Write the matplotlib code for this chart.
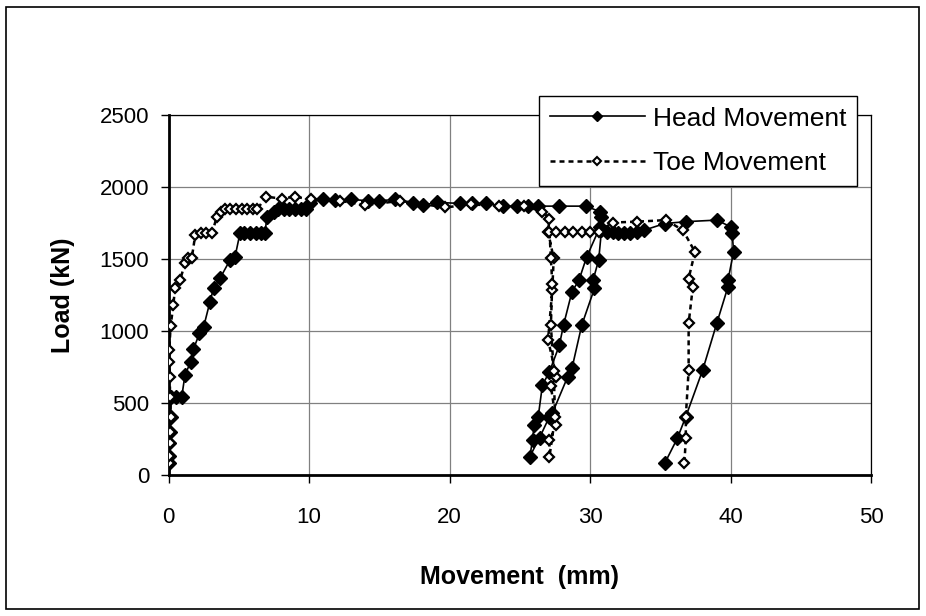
# Load - movement curves, head and toe of the pile
import matplotlib.pyplot as plt
from matplotlib.lines import Line2D
from matplotlib.patches import Rectangle

plt.rcParams['font.family'] = ['Liberation Sans', 'DejaVu Sans']

# Head movement (mm) and load (kN)
head_mm = [0.0, 0.0, 0.05, 0.1, 0.15, 0.2, 0.5, 0.94, 1.17, 1.58, 1.77, 2.2, 2.5, 2.95, 3.2, 3.66,
           4.37, 4.73, 5.08, 5.4, 5.8, 6.2, 6.6, 6.86, 7.0, 7.5, 7.8, 8.2, 8.6, 9.0, 9.4, 9.8,
           10.06, 11.0, 11.85, 13.0, 14.2, 15.0, 16.1, 17.4, 18.1, 19.1, 20.7, 21.6, 22.6, 23.8,
           24.8, 25.6, 26.3, 27.8, 29.7, 30.7, 30.8, 30.7,
           29.75, 29.2, 28.7, 28.1, 27.8, 27.1, 26.6, 26.3, 26.0, 25.9, 25.7,
           26.4, 27.1, 27.3, 28.4, 28.7, 29.4, 30.3, 30.2, 30.6, 30.8,
           31.2, 31.6, 32.0, 32.4, 32.8, 33.3, 33.8, 35.3, 36.8, 39.0, 40.0, 40.1, 40.2,
           39.8, 39.8, 39.0, 38.0, 36.8, 36.2, 35.3]
head_kN = [80, 130, 220, 300, 400, 544, 544, 544, 694, 787, 873, 984, 1030, 1204, 1296, 1366,
           1493, 1516, 1678, 1680, 1680, 1680, 1680, 1680, 1794, 1829, 1845, 1845, 1845, 1845, 1845, 1845,
           1887, 1921, 1910, 1915, 1905, 1905, 1915, 1887, 1875, 1894, 1887, 1887, 1887, 1868,
           1868, 1868, 1868, 1868, 1868, 1829, 1794, 1724,
           1516, 1354, 1273, 1042, 900, 717, 625, 405, 347, 243, 127,
           260, 405, 428, 683, 741, 1042, 1296, 1354, 1493, 1700,
           1690, 1685, 1680, 1680, 1680, 1690, 1700, 1747, 1760, 1771, 1724, 1678, 1550,
           1354, 1308, 1053, 729, 405, 255, 81]

# Toe movement (mm) and load (kN)
toe_mm = [0.0, 0.05, 0.1, 0.1, 0.15, 0.1, 0.1, 0.05, 0.05, 0.15, 0.34, 0.46, 0.82, 1.17, 1.4, 1.65,
          1.9, 2.3, 2.7, 3.1, 3.43, 3.7, 4.0, 4.4, 4.8, 5.2, 5.6, 6.0, 6.3, 6.93, 8.05, 9.0,
          10.1, 12.2, 14.0, 16.5, 19.7, 21.5, 23.5, 25.3, 26.6, 27.1, 27.0,
          27.4, 27.3, 27.0, 27.6, 27.2, 27.6, 27.1, 27.1,
          27.5, 27.4, 27.2, 27.3, 27.2, 27.1,
          27.6, 28.2, 28.8, 29.4, 30.0, 30.6, 31.6, 33.3, 35.4, 36.6,
          37.45, 37.0, 37.3, 37.0, 37.0, 36.8, 36.8, 36.7]
toe_kN = [80, 130, 220, 300, 400, 544, 683, 787, 868, 1035, 1180, 1296, 1354, 1470, 1505, 1505,
          1667, 1680, 1680, 1680, 1794, 1829, 1845, 1845, 1845, 1845, 1845, 1845, 1845, 1933, 1921, 1933,
          1915, 1905, 1875, 1905, 1859, 1880, 1870, 1868, 1829, 1782, 1690,
          1505, 1285, 938, 683, 620, 347, 243, 127,
          400, 720, 1042, 1330, 1505, 1690,
          1690, 1690, 1690, 1690, 1690, 1690, 1754, 1760, 1771, 1700,
          1550, 1365, 1308, 1053, 729, 405, 255, 81]

fig = plt.figure(figsize=(9.26, 6.16), dpi=100)
ax = fig.add_axes([0.182, 0.229, 0.759, 0.584])

# Series
dots = (0, (2.0, 1.6))
ax.plot(head_mm, head_kN, color='black', lw=1.2, marker='D', ms=6.8,
        mfc='black', mec='black', zorder=3)
ax.plot(toe_mm, toe_kN, color='black', lw=1.8, ls=dots, marker='D', ms=5.6,
        mfc='white', mec='black', mew=1.6, zorder=4)

# Axes and grid
ax.set_xlim(0, 50)
ax.set_ylim(0, 2500)
ax.set_xticks(range(0, 51, 10))
ax.set_yticks(range(0, 2501, 500))
ax.grid(True, color='#808080', lw=0.9)
ax.set_axisbelow(True)
for s in ax.spines.values():
    s.set_color('black')
    s.set_linewidth(0.9)
ax.spines['bottom'].set_linewidth(2.0)
ax.spines['left'].set_linewidth(2.0)
ax.tick_params(direction='out', length=6, width=1, labelsize=16)
ax.tick_params(axis='x', pad=17)
ax.tick_params(axis='y', pad=8)

ax.set_xlabel('Movement  (mm)', fontsize=18, fontweight='bold')
ax.set_ylabel('Load (kN)', fontsize=18, fontweight='bold')
ax.xaxis.set_label_coords(0.5, -0.25)
ax.yaxis.set_label_coords(-0.133, 0.5)

# Legend with smaller markers
handles = [Line2D([], [], color='black', lw=1.2, marker='D', ms=5, mfc='black'),
           Line2D([], [], color='black', lw=1.8, ls=dots, marker='D', ms=4.5,
                  mfc='white', mec='black', mew=1.5)]
leg = ax.legend(handles, ['Head Movement', 'Toe Movement'], loc='upper right',
                bbox_to_anchor=(0.979, 1.053), fontsize=19, frameon=True, fancybox=False,
                edgecolor='black', framealpha=1, handlelength=3.6, handletextpad=0.3,
                borderpad=0.4, labelspacing=0.78, borderaxespad=0)
leg.get_frame().set_linewidth(1.0)
leg.set_zorder(10)

# Border round the whole chart
fig.patches.append(Rectangle((0.007, 0.012), 0.985, 0.976, transform=fig.transFigure,
                             fill=False, edgecolor='black', lw=1.2))

fig.savefig('out.png', dpi=100)
